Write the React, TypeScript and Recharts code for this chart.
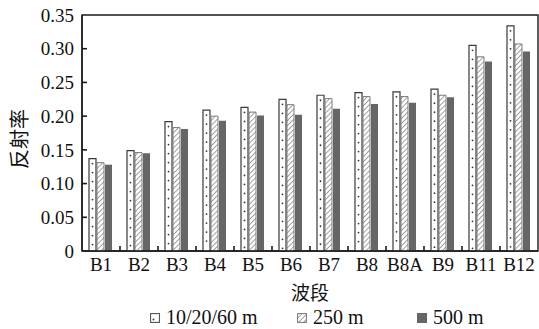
import { BarChart, Bar, XAxis, YAxis, Legend, Rectangle, ReferenceArea } from 'recharts'

const bands = ['B1', 'B2', 'B3', 'B4', 'B5', 'B6', 'B7', 'B8', 'B8A', 'B9', 'B11', 'B12']
const native = [0.137, 0.149, 0.192, 0.209, 0.213, 0.225, 0.231, 0.235, 0.236, 0.240, 0.305, 0.334]
const res250 = [0.131, 0.146, 0.183, 0.200, 0.206, 0.217, 0.226, 0.229, 0.229, 0.231, 0.288, 0.307]
const res500 = [0.128, 0.145, 0.181, 0.193, 0.201, 0.202, 0.211, 0.218, 0.220, 0.228, 0.281, 0.296]
const yTicks = [0, 0.05, 0.1, 0.15, 0.2, 0.25, 0.3, 0.35]

const seriesNames = ['10/20/60 m', '250 m', '500 m']

const FONT = '"Liberation Serif", "Times New Roman", "Noto Sans CJK SC", serif'
const CJK = '"Noto Sans CJK SC", sans-serif'
const AXIS = '#1a1a1a'
const DARK = '#666666'
const X_GAP = 7
const Y_GAP = 8

const chartData = bands.map((band, i) => ({
  band,
  native: native[i],
  res250: res250[i],
  res500: res500[i],
}))

// white bar with a column of small dots down the middle
function DottedBar(props: any) {
  const { x, y, width, height } = props
  if (!height || height <= 0) return null
  const dots = []
  for (let cy = y + 5; cy < y + height - 2; cy += 9) {
    dots.push(<circle key={cy} cx={x + width / 2} cy={cy} r={0.9} fill="#333" />)
  }
  return (
    <g>
      <Rectangle x={x} y={y} width={width} height={height} fill="#fff" stroke="#3a3a3a" strokeWidth={1.2} />
      {dots}
    </g>
  )
}

// band label plus a short inward tick on the boundary to the right of the band
function BandTick(props: any) {
  const { x, y, payload } = props
  const i = bands.indexOf(payload.value)
  const half = payload.offset || 19
  const axisY = y - X_GAP
  return (
    <g>
      <text x={x} y={y} dy="0.71em" textAnchor="middle" fontSize={19} fill="#111" fontFamily={FONT}>
        {payload.value}
      </text>
      {i >= 0 && i < bands.length - 1 && (
        <path d={`M${x + half},${axisY}v-5`} stroke={AXIS} strokeWidth={1.6} fill="none" />
      )}
    </g>
  )
}

// value label with an inward tick mark
function ValueTick(props: any) {
  const { x, y, payload } = props
  const v = Number(payload.value)
  const axisX = x + Y_GAP
  return (
    <g>
      <text x={x} y={y} dy="0.35em" textAnchor="end" fontSize={19} fill="#111" fontFamily={FONT}>
        {v === 0 ? '0' : v.toFixed(2)}
      </text>
      {v > 0 && v < 0.35 && <path d={`M${axisX},${y}h5`} stroke={AXIS} strokeWidth={1.6} fill="none" />}
    </g>
  )
}

function LegendIcon({ kind }: { kind: number }) {
  return (
    <svg width={10} height={10} style={{ marginRight: 6, verticalAlign: 'middle' }}>
      {kind === 0 && (
        <g>
          <rect x={0.6} y={0.6} width={8.8} height={8.8} fill="#fff" stroke="#444" strokeWidth={1} />
          <circle cx={3.5} cy={6.5} r={0.9} fill="#333" />
        </g>
      )}
      {kind === 1 && (
        <rect x={0.6} y={0.6} width={8.8} height={8.8} fill="url(#hatch)" stroke="#777" strokeWidth={1} />
      )}
      {kind === 2 && <rect x={0} y={0} width={10} height={10} fill={DARK} />}
    </svg>
  )
}

const itemWidths = [147, 120, 90]

function LegendContent() {
  return (
    <div style={{ display: 'flex', paddingLeft: 150, paddingTop: 5, height: 28, boxSizing: 'border-box', alignItems: 'center', fontFamily: FONT, fontSize: 20, color: '#111' }}>
      {seriesNames.map((name, i) => (
        <div key={name} style={{ width: itemWidths[i], whiteSpace: 'nowrap', display: 'flex', alignItems: 'center' }}>
          <LegendIcon kind={i} />
          <span>{name}</span>
        </div>
      ))}
    </div>
  )
}

function YTitle() {
  return (
    <text x={18} y={139} transform="rotate(-90 18 139)" textAnchor="middle" dominantBaseline="central" fontSize={20} fill="#111" fontFamily={CJK}>
      反射率
    </text>
  )
}

export default function App() {
  return (
    <div style={{ position: 'absolute', left: 0, top: 0, fontFamily: FONT, background: '#fff' }}>
      <BarChart
        width={539}
        height={329}
        data={chartData}
        margin={{ top: 15, right: 1, bottom: 0, left: 0 }}
        barCategoryGap={7}
        barGap={1}
      >
        <defs>
          <pattern id="hatch" patternUnits="userSpaceOnUse" width={3.6} height={3.6} patternTransform="rotate(45)">
            <rect width={3.6} height={3.6} fill="#fff" />
            <line x1={0} y1={0} x2={0} y2={3.6} stroke="#8a8a8a" strokeWidth={1.6} />
          </pattern>
        </defs>
        {/* plot frame */}
        <ReferenceArea y1={0} y2={0.35} fill="none" fillOpacity={0} stroke={AXIS} strokeWidth={1.4} ifOverflow="visible" />
        <XAxis
          dataKey="band"
          height={50}
          axisLine={{ stroke: AXIS, strokeWidth: 1.4 }}
          tickLine={false}
          tickSize={0}
          tickMargin={X_GAP}
          tick={<BandTick />}
          interval={0}
          label={{ value: '波段', position: 'insideBottom', offset: 1, fontSize: 19, fill: '#111', fontFamily: CJK }}
        />
        <YAxis
          width={82}
          domain={[0, 0.35]}
          ticks={yTicks}
          interval={0}
          axisLine={{ stroke: AXIS, strokeWidth: 1.4 }}
          tickLine={false}
          tickSize={0}
          tickMargin={Y_GAP}
          tick={<ValueTick />}
          label={<YTitle />}
        />
        <Legend verticalAlign="bottom" content={<LegendContent />} wrapperStyle={{ left: 0, width: 539 }} />
        <Bar dataKey="native" name={seriesNames[0]} fill="#fff" shape={<DottedBar />} isAnimationActive={false} />
        <Bar dataKey="res250" name={seriesNames[1]} fill="url(#hatch)" stroke="#7a7a7a" strokeWidth={1} isAnimationActive={false} />
        <Bar dataKey="res500" name={seriesNames[2]} fill={DARK} isAnimationActive={false} />
      </BarChart>
    </div>
  )
}
